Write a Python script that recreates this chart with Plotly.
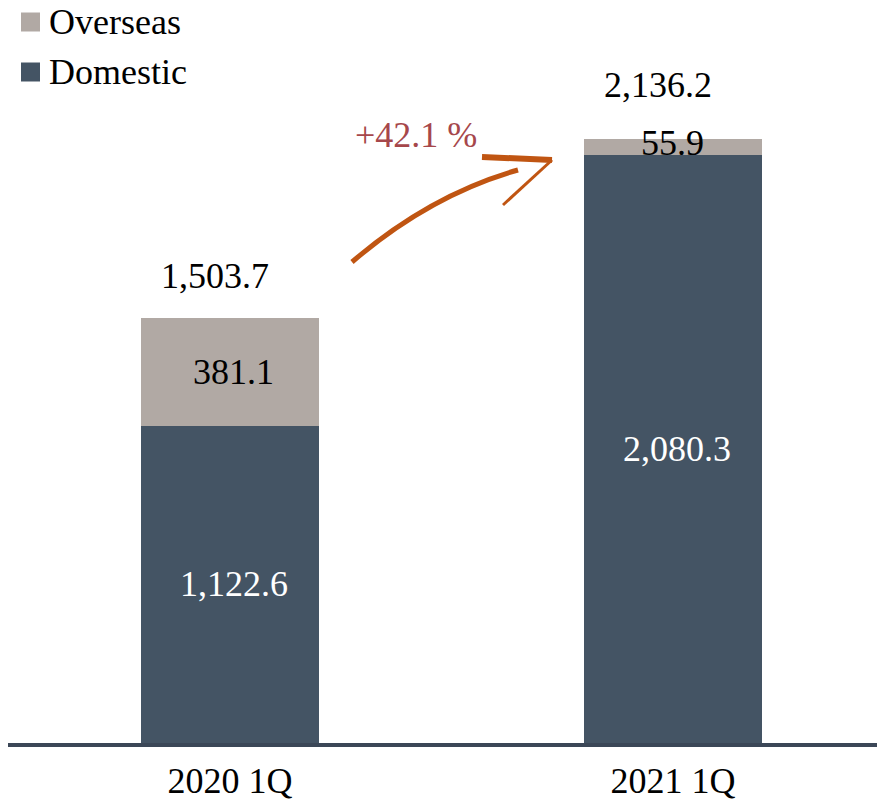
import plotly.graph_objects as go

categories = ["2020 1Q", "2021 1Q"]
domestic = [1122.6, 2080.3]
overseas = [381.1, 55.9]
totals = [1503.7, 2136.2]
growth_label = "+42.1 %"

C_DOM = "#445464"
C_OVS = "#b1a9a4"
C_AXIS = "#3b4757"
FONT = "Liberation Serif, Times New Roman, serif"
FS = 36

# page body has an 8px margin; figure sized to fill the rest of the window
OFF = 8
W, H = 885 - OFF, 804 - OFF
L, R, T, B = 0, 0, 12, 61
PW, PH = W - L - R, H - T - B

def px(x):  # screen pixel -> paper
    return (x - OFF - L) / PW

def py(y):
    return (H - B - (y - OFF)) / PH

xs = [0, 1]
fig = go.Figure()
fig.add_trace(go.Bar(x=xs, y=domestic, name="Domestic", marker_color=C_DOM,
                     marker_line_width=0, width=0.4, showlegend=False, hoverinfo="skip"))
fig.add_trace(go.Bar(x=xs, y=overseas, name="Overseas", marker_color=C_OVS,
                     marker_line_width=0, width=0.4, showlegend=False, hoverinfo="skip"))

ann = []
for i, x in enumerate(xs):
    ann.append(dict(x=x, y=domestic[i] / 2, text=f"{domestic[i]:,.1f}", showarrow=False,
                    xanchor="center", yanchor="middle",
                    font=dict(family=FONT, size=FS, color="white"), xshift=4))
    ann.append(dict(x=x, y=domestic[i] + overseas[i] / 2, text=f"{overseas[i]:,.1f}", showarrow=False,
                    xanchor="center", yanchor="middle",
                    font=dict(family=FONT, size=FS, color="black"), xshift=3 if i == 0 else -1,
                    yshift=0 if i == 0 else 4))
lifts = [20, 32]
for i, x in enumerate(xs):
    ann.append(dict(x=x, y=totals[i], text=f"{totals[i]:,.1f}", showarrow=False,
                    xanchor="center", yanchor="bottom",
                    font=dict(family=FONT, size=FS, color="black"), xshift=-15, yshift=lifts[i]))

# growth label
ann.append(dict(xref="paper", yref="paper", x=px(416), y=py(135), text=growth_label, showarrow=False,
                xanchor="center", yanchor="middle",
                font=dict(family=FONT, size=FS, color="#a6474b")))

# manual legend
shapes = []
leg = [("Overseas", C_OVS, 22), ("Domestic", C_DOM, 72)]
for name, col, cy in leg:
    shapes.append(dict(type="rect", xref="paper", yref="paper", x0=px(21), x1=px(40),
                       y0=py(cy + 9.5), y1=py(cy - 9.5), fillcolor=col, line_width=0))
    ann.append(dict(xref="paper", yref="paper", x=px(47), y=py(cy), text=name, showarrow=False,
                    xanchor="left", yanchor="middle",
                    font=dict(family=FONT, size=FS, color="black")))

# hand-drawn style arrow
ARW = "#c05512"
curve = f"M {px(352)},{py(262)} Q {px(430)},{py(195)} {px(518)},{py(170)}"
shapes.append(dict(type="path", xref="paper", yref="paper", path=curve,
                   line=dict(color=ARW, width=5)))
shapes.append(dict(type="path", xref="paper", yref="paper",
                   path=f"M {px(482)},{py(157)} L {px(552)},{py(160)}",
                   line=dict(color=ARW, width=6)))
shapes.append(dict(type="path", xref="paper", yref="paper",
                   path=f"M {px(552)},{py(160)} L {px(503)},{py(205)}",
                   line=dict(color=ARW, width=3)))

ymax = PH / (604 / 2136.2)
c0, c1 = 230 - OFF, 673 - OFF  # category centres in figure pixels
unit = c1 - c0
fig.update_layout(
    width=W, height=H, barmode="stack",
    margin=dict(l=L, r=R, t=T, b=B, autoexpand=False),
    paper_bgcolor="white", plot_bgcolor="white",
    xaxis=dict(range=[-(c0 - L) / unit, 1 + (W - R - c1) / unit], tickvals=xs, ticktext=categories,
               tickfont=dict(family=FONT, size=FS, color="black"),
               showline=True, linewidth=4, linecolor=C_AXIS, showgrid=False,
               zeroline=False, ticks="", ticklabelstandoff=3, automargin=False),
    yaxis=dict(range=[0, ymax], visible=False, showgrid=False, zeroline=False),
    annotations=ann, shapes=shapes, showlegend=False,
)
fig.write_html("out.html")
